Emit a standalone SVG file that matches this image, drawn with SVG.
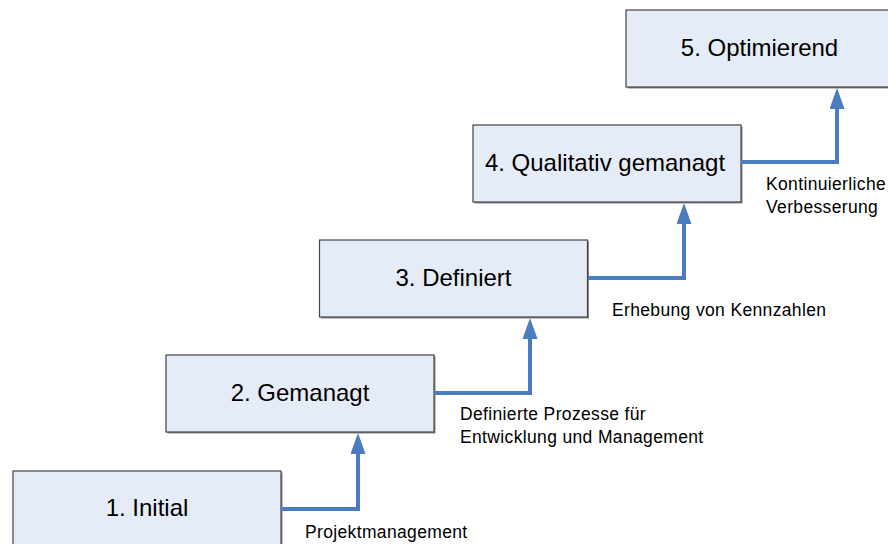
<svg xmlns="http://www.w3.org/2000/svg" width="888" height="544" viewBox="0 0 888 544">
<style>
.box{fill:#E6ECF7;stroke:#444;stroke-width:1.2}
.shadow{fill:#8a8a8a}
.lbl{font-family:"Liberation Sans",Arial,sans-serif;font-size:24px;fill:#000;text-anchor:middle}
.note{font-family:"Liberation Sans",Arial,sans-serif;font-size:17.5px;letter-spacing:0.35px;fill:#000}
.conn{fill:none;stroke:#4A7CC2;stroke-width:4;stroke-linejoin:miter}
</style>
<defs>
<marker id="ah" viewBox="0 0 21 15" refX="1" refY="7.5" markerWidth="21" markerHeight="15" markerUnits="userSpaceOnUse" orient="auto">
<path d="M0,0 L21,7.5 L0,15 z" fill="#4A7CC2"/>
</marker>
</defs>
<rect width="888" height="544" fill="#fff"/>
<g id="n1">
<rect class="shadow" x="14.5" y="472.5" width="268" height="80"/>
<rect class="box" x="13" y="471" width="268" height="80"/>
<text class="lbl" x="147" y="516">1. Initial</text>
</g>
<g id="n2">
<rect class="shadow" x="167.5" y="356.5" width="268" height="77"/>
<rect class="box" x="166" y="355" width="268" height="77"/>
<text class="lbl" x="300" y="401">2. Gemanagt</text>
</g>
<g id="n3">
<rect class="shadow" x="321" y="241.5" width="268" height="77"/>
<rect class="box" x="319.5" y="240" width="268" height="77"/>
<text class="lbl" x="453.5" y="286">3. Definiert</text>
</g>
<g id="n4">
<rect class="shadow" x="474.5" y="126.5" width="268" height="77"/>
<rect class="box" x="473" y="125" width="268" height="77"/>
<text class="lbl" x="605" y="171">4. Qualitativ gemanagt</text>
</g>
<g id="n5">
<rect class="shadow" x="627.5" y="11.5" width="268" height="77"/>
<rect class="box" x="626" y="10" width="268" height="77"/>
<text class="lbl" x="759.5" y="56">5. Optimierend</text>
</g>
<g id="connectors">
<path class="conn" d="M281,509 H358 V453" marker-end="url(#ah)"/>
<path class="conn" d="M434,393 H530 V338" marker-end="url(#ah)"/>
<path class="conn" d="M588,278 H684 V223" marker-end="url(#ah)"/>
<path class="conn" d="M741,162 H837 V108" marker-end="url(#ah)"/>
</g>
<g id="labels">
<text class="note" x="305" y="538">Projektmanagement</text>
<text class="note" x="460" y="420">Definierte Prozesse für</text>
<text class="note" x="460" y="443">Entwicklung und Management</text>
<text class="note" x="612" y="316">Erhebung von Kennzahlen</text>
<text class="note" x="766" y="190">Kontinuierliche</text>
<text class="note" x="766" y="213">Verbesserung</text>
</g>
</svg>
